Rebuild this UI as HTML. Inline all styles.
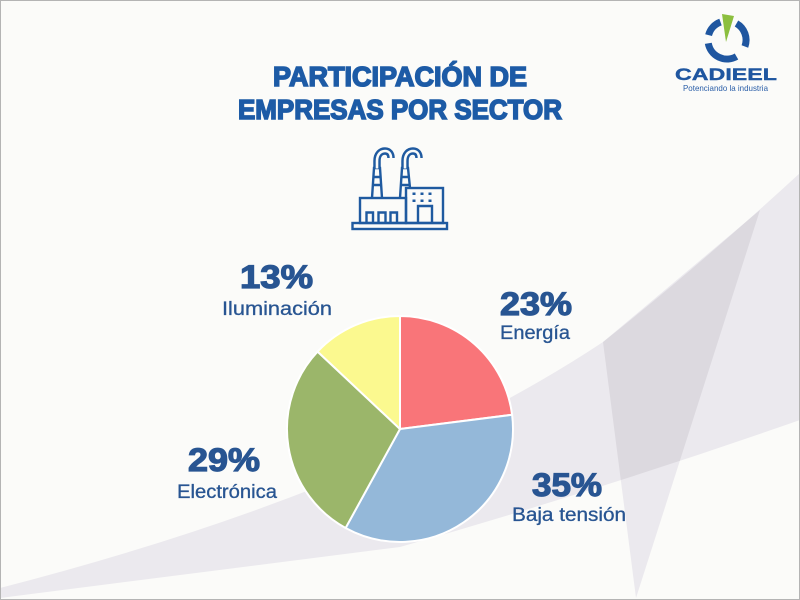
<!DOCTYPE html>
<html>
<head>
<meta charset="utf-8">
<style>
  html, body { margin: 0; padding: 0; background: #fbfbf9; }
  svg { display: block; }
  text { font-family: "Liberation Sans", sans-serif; }
</style>
</head>
<body>
<svg width="800" height="600" viewBox="0 0 800 600" xmlns="http://www.w3.org/2000/svg">
  <defs>
    <clipPath id="bandClip">
      <path d="M0,588 Q380,490 603,342 Q700,265 800,173 L800,420 Q600,490 400,547 L0,598 Z"/>
    </clipPath>
  </defs>
  <rect x="0" y="0" width="800" height="600" fill="#fbfbf9"/>

  <!-- background shapes -->
  <polygon points="603,342 760,210 636,598" fill="#ebe9ee"/>
  <path d="M0,588 Q380,490 603,342 Q700,265 800,173 L800,420 Q600,490 400,547 L0,598 Z" fill="#ebe9ee"/>
  <polygon points="603,342 760,210 636,598" fill="#dcd9df" clip-path="url(#bandClip)"/>

  <!-- border -->
  <rect x="0.5" y="0.5" width="799" height="599" fill="none" stroke="#b4b4b4" stroke-width="1"/>

  <!-- Title -->
  <text x="273" y="86" font-size="28" font-weight="bold" fill="#1d5ba6" stroke="#1d5ba6" stroke-width="1.6" textLength="254" lengthAdjust="spacingAndGlyphs">PARTICIPACIÓN DE</text>
  <text x="238" y="119" font-size="28" font-weight="bold" fill="#1d5ba6" stroke="#1d5ba6" stroke-width="1.6" textLength="324" lengthAdjust="spacingAndGlyphs">EMPRESAS POR SECTOR</text>

  <!-- Logo -->
  <g>
    <polygon points="722,14 734,16 726,42" fill="#8cbf3f"/>
    <path d="M708.6,35.1 A19,19 0 0 1 720.5,22.1" fill="none" stroke="#1f56a0" stroke-width="7"/>
    <path d="M736.5,23.5 A19,19 0 0 1 744.9,46.5" fill="none" stroke="#1f56a0" stroke-width="7"/>
    <path d="M708.3,43.3 A19,19 0 0 0 736.5,56.5" fill="none" stroke="#1f56a0" stroke-width="7"/>
    <text x="675" y="80" font-size="17" font-weight="bold" fill="#1f56a0" stroke="#1f56a0" stroke-width="0.4" textLength="102" lengthAdjust="spacingAndGlyphs">CADIEEL</text>
    <text x="683" y="91" font-size="8.5" fill="#2a5ea8" textLength="85" lengthAdjust="spacingAndGlyphs">Potenciando la industria</text>
  </g>

  <!-- Factory icon -->
  <g fill="none" stroke="#1f5aa0" stroke-width="2.4" stroke-linejoin="miter">
    <rect x="352.5" y="223" width="94.5" height="6"/>
    <rect x="360" y="198" width="46" height="25"/>
    <rect x="406" y="188" width="37" height="35"/>
    <path d="M366.5,223 V212.5 H373 V223 M378.5,223 V212.5 H385.5 V223 M390.5,223 V212.5 H397 V223"/>
    <path d="M418,223 V206 H432 V223"/>
    <!-- chimney 1 -->
    <path d="M372,198 L374,168 H380 L382,198"/>
    <path d="M373.3,177 H380.7 M372.7,185 H381.3"/>
    <!-- chimney 2 -->
    <path d="M400,198 L402,168 H408 L410,188"/>
    <path d="M401.3,177 H408.7 M400.7,185 H409.3"/>
  </g>
  <g fill="#1f5aa0">
    <rect x="412.5" y="192.5" width="3" height="2.5"/>
    <rect x="420.5" y="192.5" width="3" height="2.5"/>
    <rect x="428.5" y="192.5" width="3" height="2.5"/>
    <rect x="412.5" y="199.5" width="3" height="2.5"/>
    <rect x="420.5" y="199.5" width="3" height="2.5"/>
    <rect x="428.5" y="199.5" width="3" height="2.5"/>
  </g>
  <g fill="none" stroke-linecap="butt">
    <path d="M377,168 V161 C377,154 381,151 385,151 C389,151 391,154 391,158" stroke="#1f5aa0" stroke-width="7.5"/>
    <path d="M377,168.5 V161 C377,154 381,151 385,151 C389,151 391,154 391,158" stroke="#fbfbf9" stroke-width="2.6"/>
    <path d="M405,168 V161 C405,154 409,151 413,151 C417,151 419,154 419,158" stroke="#1f5aa0" stroke-width="7.5"/>
    <path d="M405,168.5 V161 C405,154 409,151 413,151 C417,151 419,154 419,158" stroke="#fbfbf9" stroke-width="2.6"/>
  </g>

  <!-- Pie -->
  <g stroke="#ffffff" stroke-width="2" stroke-linejoin="round">
    <path d="M400,429 L400,316 A113,113 0 0 1 512.1,414.8 Z" fill="#f97579"/>
    <path d="M400,429 L512.1,414.8 A113,113 0 0 1 345.6,528 Z" fill="#94b8d9"/>
    <path d="M400,429 L345.6,528 A113,113 0 0 1 317.6,351.6 Z" fill="#9bb66a"/>
    <path d="M400,429 L317.6,351.6 A113,113 0 0 1 400,316 Z" fill="#fbf98f"/>
  </g>

  <!-- Labels -->
  <g fill="#285592">
    <g stroke="#285592" stroke-width="1.2">
      <text x="240" y="288" font-size="32" font-weight="bold" textLength="73" lengthAdjust="spacingAndGlyphs">13%</text>
      <text x="500" y="315" font-size="32" font-weight="bold" textLength="72" lengthAdjust="spacingAndGlyphs">23%</text>
      <text x="188" y="471" font-size="32" font-weight="bold" textLength="72" lengthAdjust="spacingAndGlyphs">29%</text>
      <text x="532" y="496" font-size="32" font-weight="bold" textLength="70" lengthAdjust="spacingAndGlyphs">35%</text>
    </g>
    <g stroke="#285592" stroke-width="0.3">
      <text x="222" y="315" font-size="19" textLength="110" lengthAdjust="spacingAndGlyphs">Iluminación</text>
      <text x="500" y="339" font-size="19" textLength="70" lengthAdjust="spacingAndGlyphs">Energía</text>
      <text x="177" y="498" font-size="19" textLength="100" lengthAdjust="spacingAndGlyphs">Electrónica</text>
      <text x="512" y="521" font-size="19" textLength="114" lengthAdjust="spacingAndGlyphs">Baja tensión</text>
    </g>
  </g>
</svg>
</body>
</html>
